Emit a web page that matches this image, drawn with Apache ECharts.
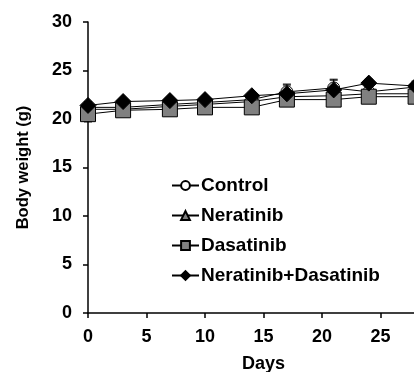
<!DOCTYPE html>
<html><head><meta charset="utf-8">
<script src="https://cdn.jsdelivr.net/npm/echarts@6/dist/echarts.min.js"></script>
<style>html,body{margin:0;padding:0;background:#fff}#c{width:414px;height:372px}</style>
</head><body><div id="c"></div>
<script>
const days = [0, 3, 7, 10, 14, 17, 21, 24, 28];
const control = [21.2, 21.2, 21.5, 21.7, 22.0, 22.8, 23.2, 22.8, 23.3];
const neratinib = [21.0, 21.0, 21.3, 21.5, 21.8, 22.3, 22.4, 22.6, 22.6];
const dasatinib = [20.5, 20.9, 21.0, 21.2, 21.2, 22.0, 22.0, 22.3, 22.3];
const combo = [21.4, 21.8, 21.9, 22.0, 22.4, 22.6, 23.0, 23.7, 23.4];
const controlSd = [0.5, 0.4, 0.5, 0.5, 0.5, 0.7, 0.8, 0.6, 0.6];
const neratinibSd = [0.4, 0.4, 0.4, 0.4, 0.4, 0.5, 0.6, 0.5, 0.5];
const dasatinibSd = [0.8, 0.5, 0.6, 0.6, 0.4, 0.7, 0.6, 0.7, 0.6];
const comboSd = [0.4, 0.3, 0.3, 0.3, 0.3, 1.0, 1.1, 0.4, 0.4];
const yTicks = [0, 5, 10, 15, 20, 25, 30];
const xTicks = [0, 5, 10, 15, 20, 25];

function pairs(v){ return days.map((d,i)=>[d, v[i]]); }
function errData(v, sd){ return days.map((d,i)=>[d, v[i], sd[i]]); }
function errSeries(v, sd){
  return {
    type: 'custom', silent: true, z: 1,
    data: errData(v, sd),
    renderItem: function(params, api){
      const x = api.value(0), m = api.value(1), s = api.value(2);
      const hi = api.coord([x, m + s]), lo = api.coord([x, m - s]);
      const w = 4;
      const st = {stroke:'#000', lineWidth:1};
      return {type:'group', children:[
        {type:'line', shape:{x1:hi[0], y1:hi[1], x2:lo[0], y2:lo[1]}, style:st},
        {type:'line', shape:{x1:hi[0]-w, y1:hi[1], x2:hi[0]+w, y2:hi[1]}, style:st},
        {type:'line', shape:{x1:lo[0]-w, y1:lo[1], x2:lo[0]+w, y2:lo[1]}, style:st}
      ]};
    }
  };
}
const font = 'Liberation Sans, Arial, sans-serif';
const chart = echarts.init(document.getElementById('c'));
chart.setOption({
  animation: false,
  grid: {left: 88, top: 22, width: 351, height: 291, outerBoundsMode: 'none', containLabel: false},
  xAxis: {
    type: 'value', min: 0, max: 30, interval: 5,
    name: 'Days', nameLocation: 'middle', nameGap: 42,
    nameTextStyle: {fontFamily: font, fontWeight: 'bold', fontSize: 18, color: '#000'},
    axisLine: {show: true, onZero: false, lineStyle: {color: '#000', width: 1.5}},
    axisTick: {show: true, length: 5, lineStyle: {color: '#000', width: 1.5}},
    axisLabel: {fontFamily: font, fontWeight: 'bold', fontSize: 18, color: '#000', margin: 15,
      formatter: v => xTicks.indexOf(v) >= 0 ? String(v) : ''},
    splitLine: {show: false}
  },
  yAxis: {
    type: 'value', min: 0, max: 30, interval: 5,
    name: 'Body weight (g)', nameLocation: 'middle', nameGap: 56,
    nameTextStyle: {fontFamily: font, fontWeight: 'bold', fontSize: 16.5, color: '#000'},
    axisLine: {show: true, lineStyle: {color: '#000', width: 1.5}},
    axisTick: {show: true, length: 5, lineStyle: {color: '#000', width: 1.5}},
    axisLabel: {fontFamily: font, fontWeight: 'bold', fontSize: 18, color: '#000', margin: 16,
      formatter: v => yTicks.indexOf(v) >= 0 ? String(v) : ''},
    splitLine: {show: false}
  },
  legend: {
    orient: 'vertical', left: 171, top: 176, padding: 0, itemWidth: 27, itemHeight: 11, itemGap: 11,
    textStyle: {fontFamily: font, fontWeight: 'bold', fontSize: 19, color: '#000', padding: [0,0,0,-3]},
    data: ['Control', 'Neratinib', 'Dasatinib', 'Neratinib+Dasatinib']
  },
  series: [
    errSeries(control, controlSd),
    errSeries(neratinib, neratinibSd),
    errSeries(dasatinib, dasatinibSd),
    errSeries(combo, comboSd),
    {name: 'Control', type: 'line', data: pairs(control), z: 2, symbol: 'circle', symbolSize: 12,
      lineStyle: {color: '#000', width: 1}, itemStyle: {color: '#fff', borderColor: '#000', borderWidth: 1}},
    {name: 'Neratinib', type: 'line', data: pairs(neratinib), z: 3, symbol: 'triangle', symbolSize: 13,
      lineStyle: {color: '#000', width: 1}, itemStyle: {color: '#808080', borderColor: '#000', borderWidth: 1}},
    {name: 'Dasatinib', type: 'line', data: pairs(dasatinib), z: 4, symbol: 'rect', symbolSize: [15, 15],
      lineStyle: {color: '#000', width: 1}, itemStyle: {color: '#808080', borderColor: '#000', borderWidth: 1}},
    {name: 'Neratinib+Dasatinib', type: 'line', data: pairs(combo), z: 5, symbol: 'diamond', symbolSize: 16,
      lineStyle: {color: '#000', width: 1}, itemStyle: {color: '#000', borderColor: '#000', borderWidth: 1}}
  ]
});
</script></body></html>
